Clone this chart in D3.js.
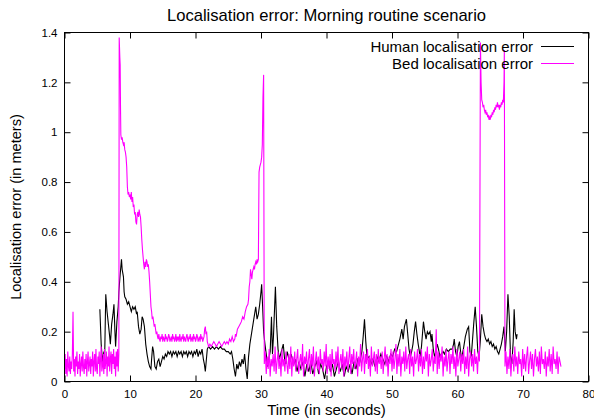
<!DOCTYPE html>
<html><head><meta charset="utf-8">
<script src="https://cdn.jsdelivr.net/npm/d3@7"></script>
<style>
body{margin:0;background:#fff}
svg{display:block}
text{font-family:"Liberation Sans",Arial,Helvetica,sans-serif;fill:#000}
</style>
</head><body>
<svg id="chart" width="594" height="419"></svg>
<script>
// ---------- text ----------
const chartTitle = "Localisation error: Morning routine scenario";
const xAxisLabel = "Time (in seconds)";
const yAxisLabel = "Localisation error (in meters)";
const seriesNames = ["Human localisation error", "Bed localisation error"];

// ---------- ticks ----------
const xTickValues = [0, 10, 20, 30, 40, 50, 60, 70, 80];
const xTickLabels = ["0", "10", "20", "30", "40", "50", "60", "70", "80"];
const yTickValues = [0, 0.2, 0.4, 0.6, 0.8, 1.0, 1.2, 1.4];
const yTickLabels = ["0", "0.2", "0.4", "0.6", "0.8", "1", "1.2", "1.4"];
const xDomain = [0, 80];
const yDomain = [0, 1.4];

// ---------- human localisation error: [time s, error m] ----------
const humanError = [
[5.4,0.29],[5.6,0.15],[5.8,0.08],[6.0,0.12],[6.1,0.05],[6.3,0.35],[6.5,0.28],[6.7,0.23],[6.9,0.18],[7.0,0.15],
[7.2,0.23],[7.4,0.27],[7.55,0.31],[7.7,0.2],[7.8,0.14],[8.0,0.24],[8.1,0.27],[8.2,0.30],[8.3,0.36],[8.5,0.43],
[8.7,0.49],[8.8,0.45],[9.0,0.42],[9.1,0.36],[9.2,0.34],[9.4,0.33],[9.6,0.31],[9.8,0.32],[10.0,0.30],[10.2,0.28],
[10.4,0.30],[10.6,0.29],[10.8,0.30],[11.0,0.27],[11.1,0.28],[11.3,0.22],[11.5,0.19],[11.7,0.21],[11.85,0.26],[12.0,0.25],
[12.2,0.22],[12.4,0.15],[12.6,0.11],[12.8,0.08],[13.0,0.06],[13.2,0.05],[13.3,0.09],[13.45,0.14],[13.6,0.12],[13.8,0.06],
[14.0,0.05],[14.2,0.08],[14.4,0.09],[14.6,0.06],[14.8,0.08],[15.0,0.10],[15.2,0.09],[15.4,0.11],[15.6,0.10],[15.8,0.12],
[16.0,0.11],[16.2,0.12],[16.4,0.10],[16.6,0.12],[16.8,0.11],[17.0,0.12],[17.2,0.10],[17.4,0.12],[17.6,0.11],[17.8,0.12],
[18.0,0.10],[18.2,0.12],[18.4,0.11],[18.6,0.12],[18.8,0.10],[19.0,0.12],[19.2,0.11],[19.4,0.12],[19.6,0.10],[19.8,0.12],
[20.0,0.11],[20.2,0.13],[20.4,0.10],[20.6,0.12],[20.8,0.11],[21.0,0.13],[21.2,0.09],[21.35,0.07],[21.5,0.04],[21.7,0.10],
[21.8,0.13],[22.0,0.14],[22.3,0.13],[22.6,0.14],[22.9,0.13],[23.2,0.14],[23.5,0.13],[23.8,0.14],[24.1,0.13],[24.4,0.13],
[24.7,0.12],[25.0,0.12],[25.3,0.11],[25.5,0.12],[25.7,0.09],[25.9,0.05],[26.1,0.02],[26.3,0.07],[26.5,0.05],[26.7,0.08],
[26.9,0.06],[27.1,0.09],[27.3,0.07],[27.5,0.11],[27.7,0.05],[27.9,0.01],[28.1,0.10],[28.3,0.15],[28.6,0.20],[28.9,0.25],
[29.2,0.30],[29.4,0.25],[29.6,0.27],[29.8,0.31],[30.0,0.36],[30.1,0.39],[30.25,0.30],[30.4,0.20],[30.6,0.15],[30.8,0.11],
[31.0,0.06],[31.2,0.09],[31.4,0.12],[31.6,0.26],[31.75,0.11],[31.9,0.18],[32.2,0.38],[32.4,0.22],[32.6,0.13],[32.8,0.09],
[33.0,0.11],[33.2,0.13],[33.4,0.15],[33.6,0.09],[33.8,0.07],[34.0,0.12],[34.2,0.10],[34.4,0.08],[34.6,0.11],[34.8,0.09],
[35.0,0.07],[35.2,0.09],[35.5,0.04],[35.8,0.08],[36.1,0.05],[36.4,0.08],[36.7,0.02],[37.0,0.07],[37.3,0.04],[37.6,0.08],
[37.9,0.03],[38.2,0.06],[38.5,0.08],[38.8,0.03],[39.1,0.07],[39.4,0.05],[39.7,0.01],[40.0,0.06],[40.3,0.08],[40.6,0.04],
[40.9,0.07],[41.2,0.02],[41.5,0.05],[41.8,0.08],[42.1,0.04],[42.4,0.07],[42.7,0.02],[43.0,0.06],[43.3,0.04],[43.6,0.07],
[43.9,0.03],[44.2,0.08],[44.5,0.05],[44.8,0.09],[45.1,0.08],[45.4,0.12],[45.6,0.18],[45.8,0.25],[46.0,0.16],[46.2,0.09],
[46.5,0.10],[46.8,0.07],[47.1,0.09],[47.4,0.06],[47.7,0.10],[48.0,0.08],[48.3,0.11],[48.6,0.09],[48.9,0.07],[49.2,0.10],
[49.5,0.08],[49.8,0.11],[50.1,0.10],[50.4,0.13],[50.7,0.12],[51.0,0.15],[51.2,0.17],[51.5,0.21],[51.7,0.17],[51.9,0.22],
[52.2,0.25],[52.4,0.19],[52.6,0.13],[52.8,0.10],[53.0,0.12],[53.2,0.15],[53.4,0.20],[53.6,0.24],[53.8,0.19],[54.0,0.15],
[54.3,0.10],[54.5,0.14],[54.8,0.24],[55.0,0.20],[55.2,0.17],[55.4,0.20],[55.6,0.19],[55.8,0.20],[56.0,0.16],[56.1,0.19],
[56.3,0.13],[56.5,0.10],[56.7,0.12],[56.9,0.15],[57.1,0.13],[57.3,0.10],[57.5,0.11],[57.8,0.12],[58.0,0.11],[58.3,0.13],
[58.6,0.12],[58.9,0.13],[59.2,0.13],[59.4,0.15],[59.5,0.17],[59.7,0.12],[59.9,0.10],[60.1,0.14],[60.3,0.16],[60.6,0.09],
[60.9,0.13],[61.2,0.18],[61.5,0.21],[61.7,0.22],[61.9,0.12],[62.1,0.10],[62.3,0.17],[62.5,0.24],[62.7,0.30],[62.9,0.22],
[63.1,0.12],[63.3,0.10],[63.5,0.17],[63.7,0.27],[63.9,0.22],[64.1,0.19],[64.3,0.17],[64.5,0.16],[64.7,0.17],[64.9,0.15],
[65.1,0.16],[65.3,0.14],[65.5,0.15],[65.7,0.13],[65.9,0.14],[66.1,0.12],[66.3,0.11],[66.5,0.13],[66.7,0.15],[66.9,0.18],
[67.1,0.22],[67.3,0.12],[67.5,0.20],[67.7,0.35],[67.9,0.26],[68.1,0.10],[68.3,0.07],[68.5,0.16],[68.65,0.29],[68.8,0.20],
[69.0,0.17],[69.1,0.19]
];

// ---------- bed localisation error ----------
// noisy stretches sampled at a regular interval (start time, sample step, values)
const bedNoiseAStart = 0.0, bedNoiseAStep = 0.1;
const bedNoiseA = [
0.05,0.11,0.03,0.09,0.02,0.12,0.06,0.04,0.10,0.03,0.08,0.05,0.11,0.28,0.04,0.09,0.02,0.10,0.06,0.12,
0.03,0.08,0.05,0.11,0.02,0.07,0.10,0.04,0.12,0.06,0.03,0.09,0.05,0.11,0.02,0.08,0.12,0.04,0.07,0.10,
0.03,0.09,0.06,0.12,0.02,0.08,0.11,0.04,0.13,0.05,0.03,0.10,0.07,0.12,0.02,0.09,0.14,0.04,0.06,0.11,
0.03,0.13,0.05,0.08,0.12,0.02,0.10,0.06,0.14,0.04,0.09,0.12,0.03,0.11,0.07,0.13,0.05,0.10,0.02,0.12,
0.06,0.13,0.04,0.11
];
// first excursion: [time s, error m]
const bedPeak1 = [
[8.35,1.38],[8.45,1.30],[8.5,1.27],[8.55,1.10],[8.6,0.99],[8.7,0.97],[8.8,0.98],[8.9,0.96],[9.0,0.95],[9.1,0.96],
[9.2,0.93],[9.3,0.92],[9.4,0.90],[9.5,0.86],[9.6,0.78],[9.7,0.75],[9.8,0.76],[9.9,0.74],[10.0,0.75],[10.1,0.73],
[10.2,0.76],[10.3,0.72],[10.4,0.74],[10.5,0.70],[10.6,0.71],[10.7,0.67],[10.8,0.68],[10.9,0.64],[11.0,0.63],[11.1,0.67],
[11.2,0.68],[11.3,0.66],[11.4,0.69],[11.5,0.67],[11.6,0.66],[11.7,0.62],[11.8,0.57],[11.9,0.53],[12.0,0.50],[12.1,0.47],
[12.2,0.45],[12.3,0.48],[12.4,0.46],[12.5,0.49],[12.6,0.48],[12.7,0.46],[12.8,0.47],[12.9,0.44],[13.0,0.40],[13.1,0.35],
[13.2,0.30],[13.3,0.28],[13.4,0.25],[13.5,0.26],[13.6,0.24],[13.7,0.22],[13.8,0.23],[13.9,0.21],[14.0,0.19],[14.1,0.20],
[14.2,0.18],[14.3,0.17],[14.4,0.19]
];
const bedPlateauStart = 14.5, bedPlateauStep = 0.1;
const bedPlateau = [
0.17,0.16,0.18,0.17,0.19,0.16,0.18,0.17,0.16,0.19,0.17,0.18,0.16,0.17,0.19,0.18,0.16,0.17,0.18,0.16,
0.19,0.17,0.18,0.16,0.17,0.19,0.16,0.18,0.17,0.18,0.16,0.19,0.17,0.16,0.18,0.17,0.19,0.16,0.18,0.17,
0.16,0.18,0.19,0.17,0.16,0.18,0.17,0.19,0.16,0.17,0.18,0.16,0.19,0.17,0.18,0.16,0.17,0.19,0.18,0.16,
0.17,0.18,0.16,0.19,0.17,0.18,0.16,0.17,0.18
];
const bedRise2 = [
[21.4,0.21],[21.5,0.22],[21.6,0.19],[21.7,0.20],[21.8,0.16],[21.9,0.15],[22.0,0.14],[22.2,0.15],[22.4,0.14],[22.6,0.15],
[22.8,0.16],[23.0,0.15],[23.2,0.14],[23.4,0.15],[23.6,0.16],[23.8,0.15],[24.0,0.14],[24.2,0.15],[24.4,0.16],[24.6,0.15],
[24.8,0.16],[25.0,0.15],[25.2,0.17],[25.4,0.16],[25.6,0.18],[25.8,0.16],[26.0,0.17],[26.1,0.19],[26.2,0.18],[26.4,0.21],
[26.6,0.22],[26.8,0.23],[27.0,0.24],[27.2,0.26],[27.4,0.25],[27.6,0.28],[27.8,0.30],[28.0,0.31],[28.1,0.33],[28.2,0.38],
[28.3,0.40],[28.4,0.45],[28.5,0.43],[28.6,0.41],[28.7,0.44],[28.8,0.45],[28.9,0.46],[29.0,0.45],[29.1,0.47],[29.2,0.48],
[29.3,0.47],[29.4,0.49],[29.5,0.48],[29.6,0.49],[29.7,0.84],[29.8,0.86],[29.9,0.87],[30.0,0.88],[30.1,0.90],[30.2,0.95],
[30.3,1.14],[30.4,1.23]
];
const bedNoiseBStart = 30.5, bedNoiseBStep = 0.15;
const bedNoiseB = [
0.07,0.12,0.03,0.10,0.05,0.13,0.02,0.09,0.06,0.11,0.04,0.14,0.03,0.08,0.12,0.05,0.10,0.02,0.13,0.06,
0.09,0.04,0.12,0.07,0.03,0.11,0.05,0.14,0.02,0.10,0.06,0.12,0.04,0.09,0.13,0.03,0.08,0.11,0.05,0.15,
0.02,0.10,0.07,0.12,0.04,0.09,0.13,0.03,0.11,0.06,0.14,0.02,0.08,0.12,0.05,0.10,0.03,0.13,0.07,0.09,
0.04,0.12,0.06,0.15,0.03,0.10,0.05,0.11,0.02,0.13,0.07,0.09,0.04,0.12,0.06,0.14,0.03,0.08,0.11,0.05,
0.13,0.02,0.10,0.06,0.12,0.04,0.09,0.14,0.03,0.11,0.07,0.13,0.05,0.08,0.12,0.02,0.10,0.06,0.15,0.04,
0.09,0.12,0.03,0.11,0.07,0.13,0.05,0.10,0.02,0.14,0.06,0.09,0.12,0.04,0.11,0.03,0.13,0.07,0.10,0.05,
0.12,0.03,0.09,0.14,0.06,0.11,0.02,0.10,0.07,0.13,0.04,0.12,0.05,0.09,0.15,0.03,0.11,0.06,0.13,0.02,
0.10,0.07,0.12,0.04,0.14,0.05,0.09,0.11,0.03,0.13,0.06,0.10,0.02,0.12,0.07,0.09,0.13,0.04,0.11,0.06,
0.13,0.03,0.10,0.05,0.12,0.08,0.14,0.02,0.11,0.06,0.09,0.13,0.04,0.10,0.07,0.21,0.03,0.12,0.05,0.11,
0.08,0.14,0.02,0.10,0.06,0.13,0.04,0.09,0.12,0.03,0.11,0.07,0.14,0.05,0.10,0.02,0.13,0.06,0.09,0.12,
0.04,0.11,0.07,0.13,0.03,0.10,0.05,0.14,0.02,0.09,0.12,0.06,0.11,0.04,0.13,0.07,0.10,0.03,0.12,0.08
];
const bedPeak2 = [
[63.5,1.36],[63.6,1.20],[63.7,1.13],[63.8,1.12],[63.9,1.10],[64.0,1.11],[64.1,1.09],[64.2,1.08],[64.3,1.09],[64.4,1.07],
[64.5,1.08],[64.6,1.06],[64.7,1.07],[64.8,1.05],[64.9,1.06],[65.0,1.05],[65.1,1.07],[65.2,1.06],[65.3,1.08],[65.4,1.07],
[65.5,1.09],[65.6,1.08],[65.7,1.10],[65.8,1.09],[65.9,1.11],[66.0,1.10],[66.1,1.12],[66.2,1.10],[66.3,1.11],[66.4,1.09],
[66.5,1.11],[66.6,1.10],[66.7,1.12],[66.8,1.11],[66.9,1.13],[67.0,1.12],[67.1,1.20],[67.15,1.33]
];
const bedNoiseCStart = 67.25, bedNoiseCStep = 0.15;
const bedNoiseC = [
0.06,0.12,0.03,0.10,0.05,0.13,0.02,0.09,0.11,0.04,0.14,0.06,0.10,0.03,0.12,0.07,0.09,0.02,0.13,0.05,
0.11,0.04,0.10,0.14,0.03,0.08,0.12,0.05,0.11,0.02,0.09,0.13,0.06,0.10,0.04,0.12,0.03,0.14,0.07,0.09,
0.05,0.12,0.02,0.10,0.06,0.13,0.04,0.11,0.03,0.14,0.07,0.09,0.05,0.12,0.03,0.10,0.08,0.06
];

// ---------- assemble ----------
const sampled = (start, step, vals) => vals.map((v, i) => [Math.round((start + i * step) * 1000) / 1000, v]);
const bedError = [].concat(
  sampled(bedNoiseAStart, bedNoiseAStep, bedNoiseA),
  bedPeak1,
  sampled(bedPlateauStart, bedPlateauStep, bedPlateau),
  bedRise2,
  sampled(bedNoiseBStart, bedNoiseBStep, bedNoiseB),
  bedPeak2,
  sampled(bedNoiseCStart, bedNoiseCStep, bedNoiseC)
);
const series = [
  {name: seriesNames[0], data: humanError, color: "#000000"},
  {name: seriesNames[1], data: bedError, color: "#ff00ff"}
];

// ---------- layout ----------
const svg = d3.select("#chart");
const plot = {left: 64.5, right: 588.5, top: 32.5, bottom: 381.5};
const x = d3.scaleLinear().domain(xDomain).range([plot.left, plot.right]);
const y = d3.scaleLinear().domain(yDomain).range([plot.bottom, plot.top]);
const tickLen = 6;

svg.append("defs").append("clipPath").attr("id", "clip")
  .append("rect").attr("x", plot.left).attr("y", plot.top)
  .attr("width", plot.right - plot.left).attr("height", plot.bottom - plot.top);

// axes (ticks inward, mirrored)
const fmtX = d => xTickLabels[xTickValues.indexOf(d)];
const fmtY = d => yTickLabels[yTickValues.indexOf(d)];

const gB = svg.append("g").attr("transform", `translate(0,${plot.bottom})`)
  .call(d3.axisBottom(x).tickValues(xTickValues).tickFormat(fmtX).tickSizeInner(-tickLen).tickSizeOuter(0).tickPadding(8));
const gL = svg.append("g").attr("transform", `translate(${plot.left},0)`)
  .call(d3.axisLeft(y).tickValues(yTickValues).tickFormat(fmtY).tickSizeInner(-tickLen).tickSizeOuter(0).tickPadding(7));
const gT = svg.append("g").attr("transform", `translate(0,${plot.top})`)
  .call(d3.axisTop(x).tickValues(xTickValues).tickFormat("").tickSizeInner(-tickLen).tickSizeOuter(0));
const gR = svg.append("g").attr("transform", `translate(${plot.right},0)`)
  .call(d3.axisRight(y).tickValues(yTickValues).tickFormat("").tickSizeInner(-tickLen).tickSizeOuter(0));
[gB, gL, gT, gR].forEach(g => {
  g.select(".domain").remove();
  g.selectAll("line").attr("stroke", "#000").attr("stroke-width", 1);
  g.selectAll("text").attr("font-size", 11.5).attr("font-family", "Liberation Sans, Arial, sans-serif").attr("fill", "#000");
});

// series lines
const line = d3.line().x(d => x(d[0])).y(d => y(d[1]));
svg.append("g").attr("clip-path", "url(#clip)")
  .selectAll("path").data(series).join("path")
  .attr("d", d => line(d.data))
  .attr("fill", "none").attr("stroke", d => d.color)
  .attr("stroke-width", 1.1).attr("stroke-linejoin", "miter");

// frame
svg.append("rect").attr("x", plot.left).attr("y", plot.top)
  .attr("width", plot.right - plot.left).attr("height", plot.bottom - plot.top)
  .attr("fill", "none").attr("stroke", "#000").attr("stroke-width", 1);

// legend
const legend = svg.append("g");
series.forEach((s, i) => {
  const ly = 46.5 + i * 17;
  legend.append("text").attr("x", 533).attr("y", ly + 5.5).attr("text-anchor", "end")
    .attr("font-size", 15).text(s.name);
  legend.append("line").attr("x1", 541).attr("x2", 574).attr("y1", ly).attr("y2", ly)
    .attr("stroke", s.color).attr("stroke-width", 1.1);
});

// title and axis labels
svg.append("text").attr("x", (plot.left + plot.right) / 2).attr("y", 21)
  .attr("text-anchor", "middle").attr("font-size", 16.6).text(chartTitle);
svg.append("text").attr("x", (plot.left + plot.right) / 2).attr("y", 415)
  .attr("text-anchor", "middle").attr("font-size", 15).text(xAxisLabel);
svg.append("text").attr("transform", `translate(21,${(plot.top + plot.bottom) / 2}) rotate(-90)`)
  .attr("text-anchor", "middle").attr("font-size", 14.6).text(yAxisLabel);
</script>
</body></html>
